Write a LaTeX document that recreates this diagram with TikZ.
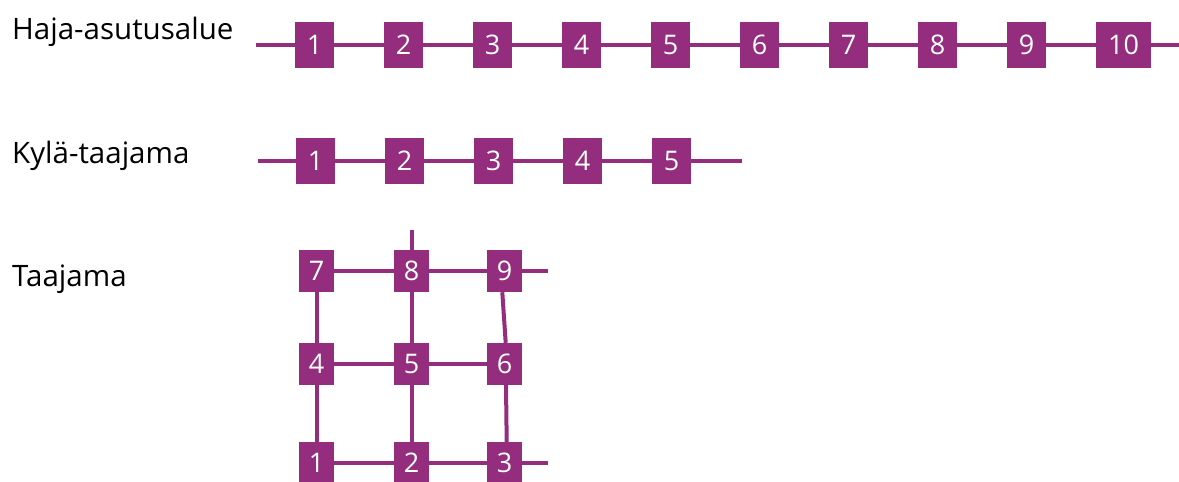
\documentclass[tikz,border=0pt]{standalone}
\usepackage{fontspec}
\setmainfont{Open Sans}
\usetikzlibrary{backgrounds}
\definecolor{purp}{RGB}{148,45,125}
\tikzset{
  numbox/.style={fill=purp, text=white, inner sep=0pt, minimum width=39pt, minimum height=46pt, font=\fontsize{27}{30}\selectfont},
  gridbox/.style={numbox, minimum width=35pt, minimum height=42pt},
  link/.style={draw=purp, line width=4pt},
  lbl/.style={anchor=base west, inner sep=0pt, font=\fontsize{29.5}{33}\selectfont}
}
\begin{document}
\begin{tikzpicture}[x=1pt,y=-1pt]
\useasboundingbox (0,0) rectangle (1179,482);
% labels
\node[lbl] (t1) at (12,39) {Haja-asutusalue};
\node[lbl] (t2) at (12,163) {Kylä-taajama};
\node[lbl] (t3) at (12,286) {Taajama};
% row 1
\coordinate (a0) at (256,45);
\coordinate (a11) at (1179,45);
\foreach \i in {1,...,9} {
  \node[numbox] (a\i) at ({314.5+89*(\i-1)},45) {\i};
}
\node[numbox, minimum width=55pt] (a10) at (1123.5,45) {10};
% row 2
\coordinate (b0) at (258,161);
\coordinate (b6) at (742,161);
\foreach \i in {1,...,5} {
  \node[numbox] (b\i) at ({315.5+89*(\i-1)},161) {\i};
}
% grid
\node[gridbox] (g7) at (316.5,271) {7};
\node[gridbox] (g8) at (411.5,271) {8};
\node[gridbox] (g9) at (504.5,271) {9};
\node[gridbox] (g4) at (316.5,364) {4};
\node[gridbox] (g5) at (411.5,364) {5};
\node[gridbox] (g6) at (504.5,364) {6};
\node[gridbox] (g1) at (316.5,463) {1};
\node[gridbox] (g2) at (411.5,463) {2};
\node[gridbox] (g3) at (504.5,463) {3};
\coordinate (gtop) at (411.5,230);
\coordinate (gr9) at (548,271);
\coordinate (gr3) at (548,463);
\begin{scope}[on background layer]
  \draw[link] (a0) -- (a1) -- (a2) -- (a3) -- (a4) -- (a5) -- (a6) -- (a7) -- (a8) -- (a9) -- (a10) -- (a11);
  \draw[link] (b0) -- (b1) -- (b2) -- (b3) -- (b4) -- (b5) -- (b6);
  \draw[link] (g7) -- (g8) -- (g9) -- (gr9);
  \draw[link] (g4) -- (g5) -- (g6);
  \draw[link] (g1) -- (g2) -- (g3) -- (gr3);
  \draw[link] (g7) -- (g4) -- (g1);
  \draw[link] (gtop) -- (g8) -- (g5) -- (g2);
  \draw[link] ([xshift=-2.2pt]g9.south) -- ([xshift=1.2pt]g6.north);
  \draw[link] ([xshift=1.5pt]g6.south) -- ([xshift=2.2pt]g3.north);
\end{scope}
\end{tikzpicture}
\end{document}
